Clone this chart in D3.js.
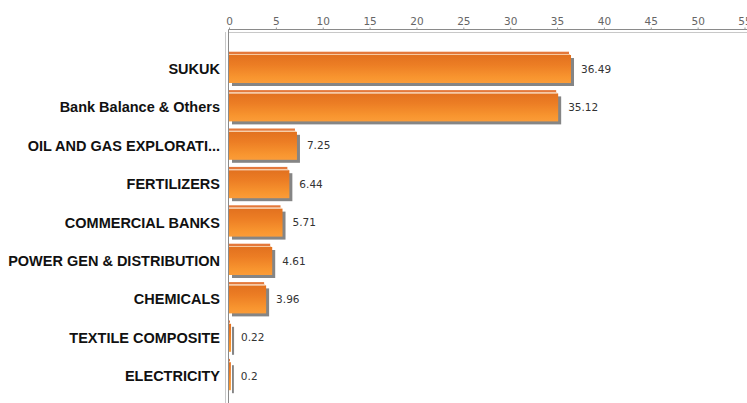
<!DOCTYPE html>
<html>
<head>
<meta charset="utf-8">
<script src="https://cdnjs.cloudflare.com/ajax/libs/d3/7.8.5/d3.min.js"></script>
<style>
  html, body { margin: 0; padding: 0; background: #fff; }
  svg { display: block; }
</style>
</head>
<body>
<svg id="chart" width="747" height="403"></svg>
<script>
// Sector allocation (%)
const categories = [
  "SUKUK",
  "Bank Balance & Others",
  "OIL AND GAS EXPLORATI...",
  "FERTILIZERS",
  "COMMERCIAL BANKS",
  "POWER GEN & DISTRIBUTION",
  "CHEMICALS",
  "TEXTILE COMPOSITE",
  "ELECTRICITY"
];
const values = [36.49, 35.12, 7.25, 6.44, 5.71, 4.61, 3.96, 0.22, 0.2];
const tickValues = [0, 5, 10, 15, 20, 25, 30, 35, 40, 45, 50, 55];

const svg = d3.select("#chart");
const W = 747, H = 403;

const x = d3.scaleLinear().domain([0, 55]).range([229, 744.5]);
const y = d3.scaleBand().domain(categories).range([49.8, 395.4]).padding(0);

// gradient for the bar body
const defs = svg.append("defs");
const grad = defs.append("linearGradient").attr("id", "barGrad")
  .attr("x1", 0).attr("y1", 0).attr("x2", 0).attr("y2", 1);
grad.append("stop").attr("offset", "0%").attr("stop-color", "#e2711f");
grad.append("stop").attr("offset", "35%").attr("stop-color", "#ec7d24");
grad.append("stop").attr("offset", "80%").attr("stop-color", "#f8952f");
grad.append("stop").attr("offset", "100%").attr("stop-color", "#fb9c38");

// frame lines: double rule along the top and the left
svg.append("line").attr("x1", x(0) - 0.5).attr("x2", W).attr("y1", 29.5).attr("y2", 29.5)
  .attr("stroke", "#8a8a8a").attr("stroke-width", 1);
svg.append("line").attr("x1", x(0) - 0.5).attr("x2", W).attr("y1", 32.5).attr("y2", 32.5)
  .attr("stroke", "#c8c8c8").attr("stroke-width", 1);
svg.append("line").attr("x1", 225.5).attr("x2", 225.5).attr("y1", 32).attr("y2", H)
  .attr("stroke", "#c8c8c8").attr("stroke-width", 1);
svg.append("line").attr("x1", x(0) - 0.5).attr("x2", x(0) - 0.5).attr("y1", 29.5).attr("y2", H)
  .attr("stroke", "#8a8a8a").attr("stroke-width", 1);

// top axis
const axis = d3.axisTop(x).tickValues(tickValues).tickSize(2).tickPadding(3)
  .tickFormat(d3.format("d"));
const gAxis = svg.append("g").attr("transform", "translate(0,29.5)").call(axis);
gAxis.select(".domain").remove();
gAxis.selectAll(".tick line").attr("stroke", "#999");
gAxis.selectAll(".tick text")
  .attr("fill", "#666")
  .style("font-family", "'DejaVu Sans', Verdana, sans-serif")
  .style("font-size", "10.5px");

// bars
const rows = svg.append("g").selectAll("g.row").data(categories.map((c, i) => ({ c, v: values[i] })))
  .enter().append("g").attr("class", "row");

rows.each(function (d) {
  const g = d3.select(this);
  const c = y(d.c) + y.bandwidth() / 2;
  const x0 = x(0);
  const w = Math.max(x(d.v) - x0, 1);
  // drop shadow
  g.append("rect").attr("x", x0 + 3).attr("y", c - 11).attr("width", w).attr("height", 28)
    .attr("fill", "#858585");
  // body
  g.append("rect").attr("x", x0).attr("y", c - 14).attr("width", w).attr("height", 28)
    .attr("fill", "url(#barGrad)");
  // top bevel stripe
  g.append("rect").attr("x", x0).attr("y", c - 17.3).attr("width", Math.max(w - 2, 1)).attr("height", 2.3)
    .attr("fill", "#e4783a");
  g.append("rect").attr("x", x0).attr("y", c - 15).attr("width", Math.max(w - 1, 1)).attr("height", 1)
    .attr("fill", "#f6c9a0");
  // value label
  g.append("text").attr("x", x(d.v) + 10).attr("y", c).attr("dy", "0.35em")
    .attr("fill", "#333")
    .style("font-family", "'DejaVu Sans', Verdana, sans-serif")
    .style("font-size", "10.5px")
    .text(d.v);
  // category label
  g.append("text").attr("x", 220).attr("y", c).attr("dy", "0.35em")
    .attr("text-anchor", "end")
    .attr("fill", "#111")
    .style("font-family", "'Liberation Sans', Arial, sans-serif")
    .style("font-weight", "bold")
    .style("font-size", "14.5px")
    .text(d.c);
});
</script>
</body>
</html>
